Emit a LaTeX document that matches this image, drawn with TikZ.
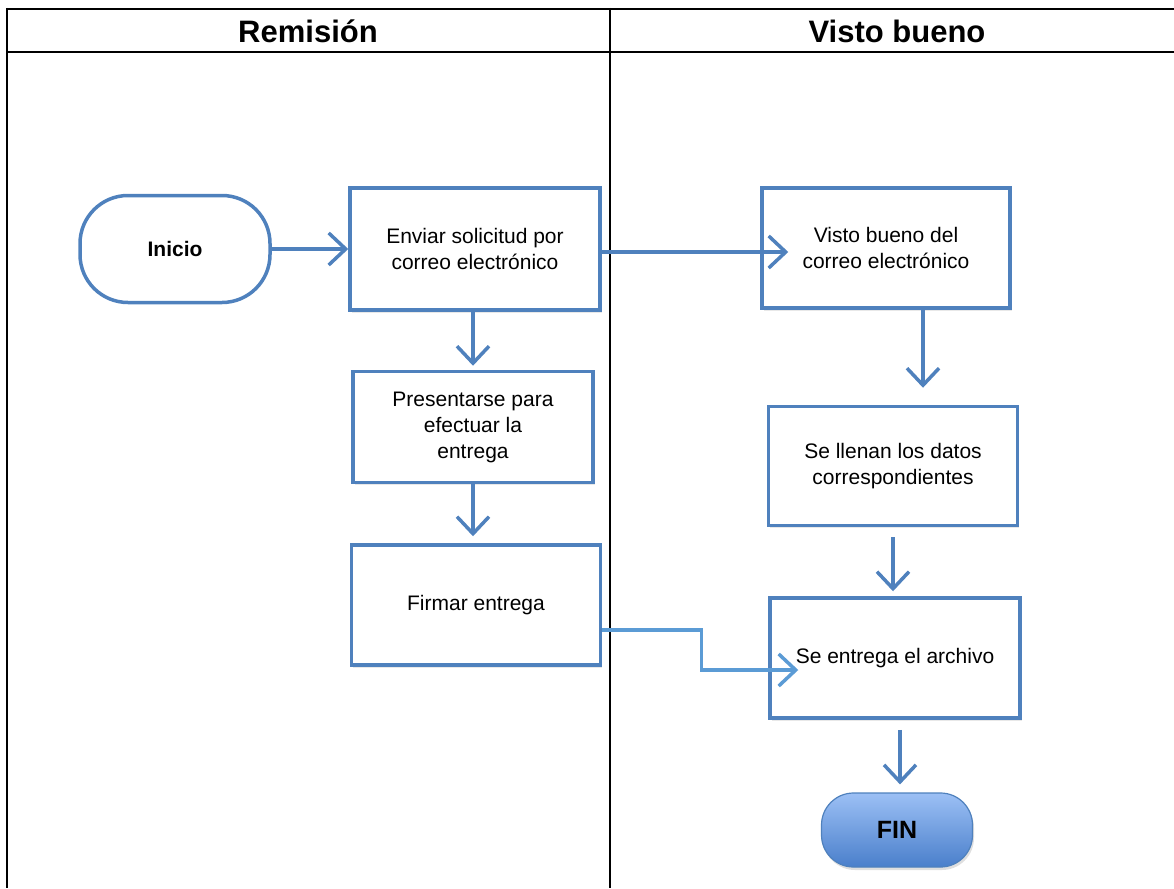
\documentclass[tikz,border=0pt]{standalone}
\usepackage{fontspec}
\setmainfont{Liberation Sans}
\usetikzlibrary{arrows.meta,shadows,calc}
\definecolor{boxblue}{HTML}{4F81BD}
\definecolor{linkblue}{HTML}{5B9BD5}
\definecolor{fintop}{HTML}{9CC0F5}
\definecolor{finbot}{HTML}{4A7FCB}
\tikzset{
  stepbox/.style={draw=boxblue, line width=3.5pt, fill=white, align=center,
    font=\fontsize{21}{26}\selectfont, inner sep=4pt,
    drop shadow={shadow xshift=1.5pt, shadow yshift=-2.5pt, opacity=0.18}},
  startbox/.style={draw=boxblue, line width=3.5pt, fill=white, align=center,
    rounded corners=48pt, font=\fontsize{21}{26}\selectfont\bfseries},
  finbox/.style={draw=boxblue, line width=1.2pt, top color=fintop, bottom color=finbot,
    rounded corners=32pt, font=\fontsize{25}{30}\selectfont\bfseries,
    drop shadow={shadow xshift=1.5pt, shadow yshift=-3pt, opacity=0.25}},
  arr/.style={draw=boxblue, line width=3.5pt, -{Straight Barb[length=17pt,width=32pt,line width=3.5pt]}},
  linkarr/.style={draw=linkblue, line width=3.5pt, -{Straight Barb[length=17pt,width=32pt,line width=3.5pt]}},
  grid/.style={draw=black, line width=2pt},
  head/.style={font=\fontsize{31}{36}\selectfont\bfseries}
}
\begin{document}
\begin{tikzpicture}[x=1pt,y=-1pt]
\useasboundingbox (0,0) rectangle (1174,888);
% table
\draw[grid] (7,9) -- (1174,9);
\draw[grid] (7,52) -- (1174,52);
\draw[grid] (7,8) -- (7,888);
\draw[grid] (610,8) -- (610,888);
\node[head] (h1) at (308,31) {Remisión};
\node[head] (h2) at (897,31) {Visto bueno};
% nodes
\node[startbox, minimum width=190pt, minimum height=107pt] (inicio) at (175,249) {Inicio};
\node[stepbox, minimum width=250pt, minimum height=122pt] (enviar) at (475,249) {Enviar solicitud por\\correo electrónico};
\node[stepbox, minimum width=240pt, minimum height=111pt] (pres) at (473,427) {Presentarse para\\efectuar la\\entrega};
\node[stepbox, minimum width=249pt, minimum height=120pt] (firmar) at (476,605) {Firmar entrega};
\node[stepbox, minimum width=248pt, minimum height=120pt] (visto) at (886,248) {Visto bueno del\\correo electrónico};
\node[stepbox, minimum width=249pt, minimum height=119pt] (llenan) at (893,466) {Se llenan los datos\\correspondientes};
\node[stepbox, minimum width=250pt, minimum height=120pt] (entrega) at (895,658) {Se entrega el archivo};
\node[finbox, minimum width=151pt, minimum height=74pt] (fin) at (897,830) {FIN};
% connectors
\draw[arr] (inicio.east) -- (enviar.west);
\draw[arr] ($(enviar.east)+(0,3)$) -- ($(visto.west)+(28,4)$);
\draw[arr] ($(enviar.south)+(-2,0)$) -- ($(pres.north)+(0,-4)$);
\draw[arr] (pres.south) -- ($(firmar.north)+(-3,-7)$);
\draw[arr] ($(visto.south)+(37,0)$) -- ($(llenan.north)+(30,-17)$);
\draw[arr] ($(llenan.south)+(0,10)$) -- ($(entrega.north)+(-2,-5)$);
\draw[arr] ($(entrega.south)+(5,10)$) -- ($(fin.north)+(3,-8)$);
\coordinate (bend1) at ($(firmar.east)+(99,25)$);
\draw[linkarr] ($(firmar.east)+(0,25)$) -- (bend1) |- ($(entrega.west)+(30,12)$);
\end{tikzpicture}
\end{document}
